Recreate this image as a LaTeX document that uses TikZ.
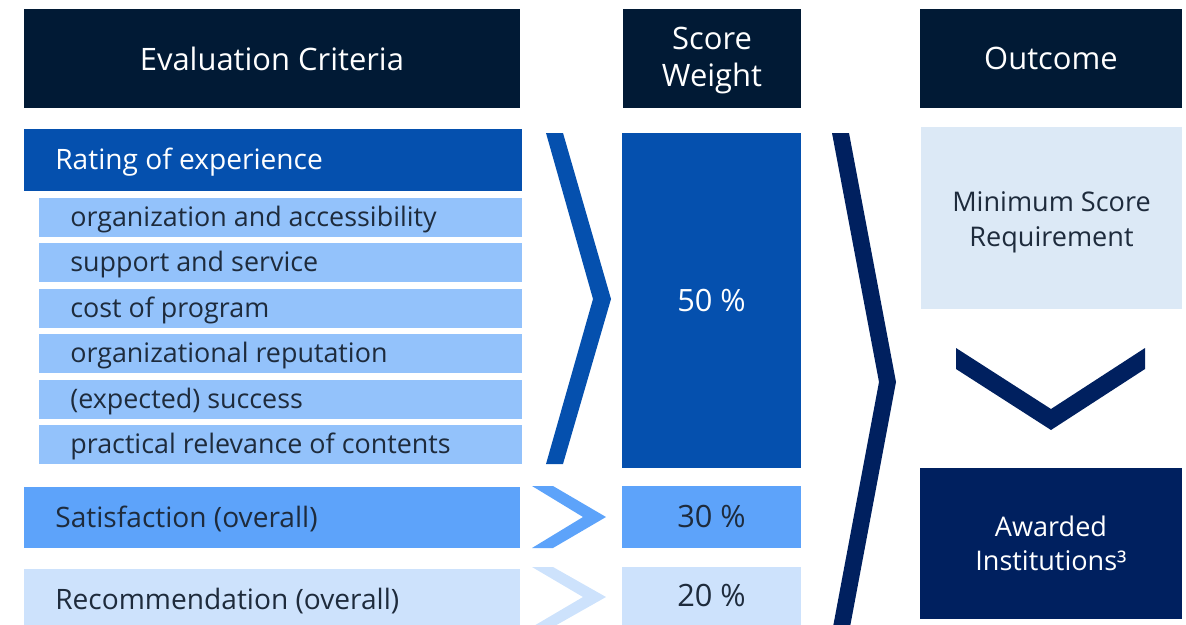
\documentclass[tikz,border=0pt]{standalone}
\usepackage{fontspec}
\setmainfont{Open Sans}

\definecolor{headbg}{HTML}{011A35}
\definecolor{blueA}{HTML}{0550AE}
\definecolor{blueB}{HTML}{93C2FB}
\definecolor{blueC}{HTML}{5DA3FA}
\definecolor{blueD}{HTML}{CDE2FC}
\definecolor{navy}{HTML}{00205F}
\definecolor{paleA}{HTML}{DCE9F6}
\definecolor{txtdark}{HTML}{1E2B3C}

\tikzset{
  box/.style={rectangle, inner sep=0pt, outer sep=0pt, anchor=north west, align=center},
  head/.style={box, fill=headbg, text=white, font=\fontsize{17.6}{21}\selectfont, minimum height=1.98cm},
  crit/.style={anchor=west, inner sep=0pt, font=\fontsize{16}{20}\selectfont},
  sub/.style={anchor=west, inner sep=0pt, font=\fontsize{15.3}{18}\selectfont, text=txtdark},
  pct/.style={box, minimum width=3.58cm, font=\fontsize{17.5}{20}\selectfont},
  outbox/.style={box, font=\fontsize{15.4}{19.5}\selectfont}
}

\begin{document}
\begin{tikzpicture}[x=0.02cm, y=-0.02cm]
        \useasboundingbox (0,0) rectangle (1186,625);

        % Headers
        \node[head, minimum width=9.92cm] (crithead) at (24,9) {Evaluation Criteria};
        \node[head, minimum width=3.56cm] (weighthead) at (623,9) {};
        \node[align=center, text=white, font=\fontsize{17.6}{21}\selectfont] (weighttxt)
          at ([yshift=-1pt]weighthead.center) {Score\\[0pt]Weight};
        \node[head, minimum width=5.24cm] (outhead) at (920,9) {Outcome};

        % Rating of experience
        \node[box, fill=blueA, minimum width=9.96cm, minimum height=1.24cm] (rate) at (24,129) {};
        \node[crit, text=white] (ratetxt) at (55,162) {Rating of experience};

        % Sub criteria
        \foreach \i/\t in {0/organization and accessibility, 1/support and service, 2/cost of program,
                           3/organizational reputation, 4/(expected) success, 5/practical relevance of contents} {
          \node[box, fill=blueB, minimum width=9.66cm, minimum height=0.78cm] (sub\i) at (39,198+45.4*\i) {};
          \node[sub] (subtxt\i) at (70,219.5+45.4*\i) {\t};
        }

        % Satisfaction
        \node[box, fill=blueC, minimum width=9.92cm, minimum height=1.22cm] (sat) at (24,487) {};
        \node[crit, text=txtdark] (sattxt) at (55,519) {Satisfaction (overall)};

        % Recommendation
        \node[box, fill=blueD, minimum width=9.92cm, minimum height=1.12cm] (rec) at (24,569) {};
        \node[crit, text=txtdark] (rectxt) at (55,601) {Recommendation (overall)};

        % Chevrons to weights
        \fill[blueA] (546,133) -- (563,133) -- (611,299) -- (563,464) -- (546,464) -- (593,299) -- cycle;
        \fill[blueC] (532,486) -- (553,486) -- (606,517) -- (553,548) -- (532,548) -- (583,517) -- cycle;
        \fill[blueD] (532,567) -- (553,567) -- (606,597) -- (553,627) -- (532,627) -- (583,597) -- cycle;

        % Score weights
        \node[pct, fill=blueA, text=white, minimum height=6.7cm] (fifty) at (622,133) {50 \%};
        \node[pct, fill=blueC, text=txtdark, minimum height=1.24cm] (thirty) at (622,486) {30 \%};
        \node[pct, fill=blueD, text=txtdark, minimum height=1.16cm] (twenty) at (622,567) {20 \%};

        % Big chevron to outcome
        \fill[navy] (832,133) -- (849,133) -- (896,382) -- (850,627) -- (833,627) -- (879,382) -- cycle;

        % Outcome
        \node[outbox, fill=paleA, minimum width=5.22cm, minimum height=3.64cm] (minscore) at (921,127) {};
        \node[align=center, text=txtdark, font=\fontsize{15.4}{19.5}\selectfont] (mintxt)
          at ([yshift=-2.5pt]minscore.center) {Minimum Score\\Requirement};
        \fill[navy] (956,348) -- (1051,409) -- (1145,348) -- (1145,369) -- (1051,430) -- (956,369) -- cycle;
        \node[outbox, fill=navy, text=white, minimum width=5.24cm, minimum height=3.02cm] (awarded) at (920,468) {Awarded\\Institutions³};
\end{tikzpicture}
\end{document}
